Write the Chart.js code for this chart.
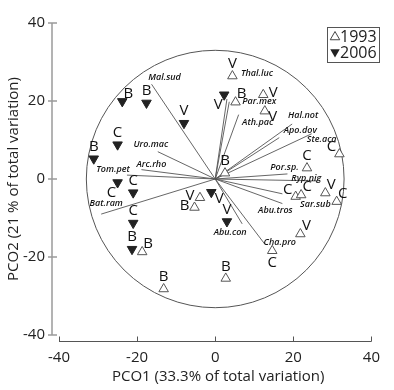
<!DOCTYPE html>
<html><head><meta charset="utf-8">
<script src="https://cdn.jsdelivr.net/npm/chart.js@4/dist/chart.umd.min.js"></script>
<style>html,body{margin:0;padding:0;background:#fff}#wrap{width:394px;height:390px}</style>
</head><body><div id="wrap"><canvas id="c" width="394" height="390"></canvas></div>
<script>
// ---- data ----
const legendLabels = ['1993', '2006'];
const x1993 = [4.4, 5.2, 12.3, 12.7, 2.5, 23.5, 31.8, 20.6, 22.0, 28.2, 31.1, 21.8, 14.6, 2.7, -13.2, -18.7, -3.9, -5.3];
const y1993 = [26.4, 19.7, 21.6, 17.4, 1.5, 2.8, 6.4, -4.5, -4.1, -3.6, -5.8, -14.1, -18.4, -25.5, -28.2, -18.7, -4.8, -7.3];
const grp1993 = ['V','B','V','V','B','C','C','C','C','V','C','V','C','B','B','B','V','B'];
const x2006 = [2.3, -23.8, -17.6, -8.0, -25.0, -31.1, -25.0, -21.0, -21.0, -21.3, -1.0, 3.0];
const y2006 = [21.6, 19.9, 19.5, 14.3, 8.8, 5.2, -0.9, -3.5, -11.3, -18.0, -3.4, -10.9];
const grp2006 = ['V','B','B','V','C','B','C','C','C','B','V','V'];
const species = ['Mal.sud','Thal.luc','Par.mex','Ath.pac','Hal.not','Apo.dov','Ste.aca','Uro.mac','Arc.rho','Tom.pet','Bat.ram','Por.sp.','Ryp.nig','Sar.sub','Abu.tros','Abu.con','Cha.pro'];
const spX = [-16.3, 3.0, 3.6, 6.0, 19.7, 16.4, 24.7, -14.7, -18.9, -22.6, -29.2, 18.5, 26.4, 17.2, 17.2, 6.9, 12.7];
const spY = [24.3, 20.5, 19.8, 16.5, 14.1, 10.6, 11.6, 7.0, 2.4, 1.0, -9.0, 1.3, -0.5, -3.8, -6.3, -11.5, -16.7];
const xTicks = [-40, -20, 0, 20, 40];
const yTicks = [-40, -20, 0, 20, 40];
const circleRadius = 33;
const xTitle = 'PCO1 (33.3% of total variation)';
const yTitle = 'PCO2 (21 % of total variation)';

// ---- layout (label placement only) ----
const place = {T:[0,-12], B:[0,12], L:[-10,-2], R:[10,-2], TL:[-8,-7], TR:[6,-8], BL:[-6,10], BR:[8,6]};
const pos1993 = ['T','TR','R','BR','T','T','TL','TL','TR','TR','TR','TR','B','T','T','TR','L','L'];
const pos2006 = ['BL','TR','T','T','T','T','BL','T','T','T','BR','T'];
const spLabelOffset = [[13,-7],[30,-26],[30,0],[19,8],[11,-9],[21,-7],[10,6],[-7,-7],[10,-5],[-14,-6],[5,-11],[-3,-6],[-12,-3],[33,11],[-7,7],[-12,9],[15,-2]];

const FONT = "'Open Sans', 'DejaVu Sans', sans-serif";

const decor = {
  id: 'decor',
  beforeDatasetsDraw(chart) {
    const {ctx, scales:{x, y}} = chart;
    const cx = x.getPixelForValue(0), cy = y.getPixelForValue(0);
    const rx = Math.abs(x.getPixelForValue(circleRadius) - cx);
    const ry = Math.abs(y.getPixelForValue(circleRadius) - cy);
    ctx.save();
    ctx.strokeStyle = '#555'; ctx.lineWidth = 1;
    ctx.beginPath(); ctx.ellipse(cx, cy, rx, ry, 0, 0, Math.PI*2); ctx.stroke();
    ctx.restore();
  },
  afterDraw(chart) {
    const {ctx, chartArea:a, scales:{x, y}} = chart;
    ctx.save();
    // y axis
    const ax = a.left - 7;
    ctx.strokeStyle = '#9a9a9a'; ctx.lineWidth = 1.5;
    ctx.beginPath(); ctx.moveTo(ax, y.getPixelForValue(40)); ctx.lineTo(ax, y.getPixelForValue(-40)); ctx.stroke();
    yTicks.forEach(v => { const p = y.getPixelForValue(v); ctx.beginPath(); ctx.moveTo(ax-4, p); ctx.lineTo(ax+5, p); ctx.stroke(); });
    // x axis
    const ay = a.bottom + 6.5;
    ctx.strokeStyle = '#555'; ctx.lineWidth = 1;
    ctx.beginPath(); ctx.moveTo(x.getPixelForValue(-40), ay); ctx.lineTo(x.getPixelForValue(40), ay); ctx.stroke();
    xTicks.forEach(v => { const p = Math.round(x.getPixelForValue(v))+0.5; ctx.beginPath(); ctx.moveTo(p, ay); ctx.lineTo(p, ay-5); ctx.stroke(); });
    // titles
    ctx.fillStyle = '#222'; ctx.font = '15px ' + FONT; ctx.textAlign = 'center'; ctx.textBaseline = 'middle';
    ctx.fillText(xTitle, (a.left + a.right)/2 + 3, 377);
    ctx.save(); ctx.translate(14, (a.top + a.bottom)/2); ctx.rotate(-Math.PI/2); ctx.fillText(yTitle, 0, 0); ctx.restore();
    // group letters
    ctx.font = '15px ' + FONT; ctx.fillStyle = '#111';
    const drawLetters = (xs, ys, gs, ps) => xs.forEach((xv, i) => {
      const o = place[ps[i]];
      ctx.fillText(gs[i], x.getPixelForValue(xv) + o[0], y.getPixelForValue(ys[i]) + o[1]);
    });
    drawLetters(x1993, y1993, grp1993, pos1993);
    drawLetters(x2006, y2006, grp2006, pos2006);
    // species labels
    ctx.font = 'italic 600 9px ' + FONT; ctx.fillStyle = '#111';
    species.forEach((s, i) => {
      const o = spLabelOffset[i];
      ctx.fillText(s, x.getPixelForValue(spX[i]) + o[0], y.getPixelForValue(spY[i]) + o[1]);
    });
    // legend
    const L = 327, T = 27, W = 52, H = 35;
    ctx.strokeStyle = '#555'; ctx.lineWidth = 1;
    ctx.strokeRect(L+0.5, T+0.5, W, H);
    const tri = (cxp, cyp, r, down, fill) => {
      const s = down ? -1 : 1;
      ctx.beginPath();
      ctx.moveTo(cxp, cyp - s*r);
      ctx.lineTo(cxp + r*0.866, cyp + s*r/2);
      ctx.lineTo(cxp - r*0.866, cyp + s*r/2);
      ctx.closePath();
      if (fill) { ctx.fillStyle = '#222'; ctx.fill(); }
      else { ctx.fillStyle = '#fff'; ctx.fill(); ctx.strokeStyle = '#444'; ctx.stroke(); }
    };
    tri(L+8, T+10, 5.5, false, false);
    tri(L+8, T+25, 5.5, true, true);
    ctx.fillStyle = '#222'; ctx.font = '16px ' + FONT; ctx.textAlign = 'left';
    ctx.fillText(legendLabels[0], L+13, T+10);
    ctx.fillText(legendLabels[1], L+13, T+26);
    ctx.restore();
  }
};

const vectorSets = species.map((s, i) => ({
  label: s, data: [{x:0, y:0}, {x:spX[i], y:spY[i]}], showLine: true,
  pointRadius: 0, borderColor: '#555', borderWidth: 0.9, fill: false
}));

new Chart(document.getElementById('c'), {
  type: 'scatter',
  data: { datasets: [
    { label: legendLabels[0], data: x1993.map((v, i) => ({x: v, y: y1993[i]})),
      pointStyle: 'triangle', pointRadius: 5.5, backgroundColor: '#fff', borderColor: '#555', borderWidth: 1 },
    { label: legendLabels[1], data: x2006.map((v, i) => ({x: v, y: y2006[i]})),
      pointStyle: 'triangle', pointRadius: 5.5, pointRotation: 180, rotation: 180, backgroundColor: '#222', borderColor: '#222', borderWidth: 1 },
    ...vectorSets
  ]},
  options: {
    responsive: false, animation: false, devicePixelRatio: 1,
    layout: { padding: { top: 15, right: 14, left: 0, bottom: 0 } },
    plugins: { legend: { display: false }, tooltip: { enabled: false } },
    scales: {
      x: { type: 'linear', min: -40, max: 40,
        afterBuildTicks: s => { s.ticks = xTicks.map(v => ({value: v})); },
        afterFit: s => { s.height = 55; },
        grid: { display: false, drawTicks: false }, border: { display: false },
        ticks: { padding: 14, color: '#222', font: { family: FONT, size: 15 }, maxRotation: 0 } },
      y: { type: 'linear', min: -40, max: 40,
        afterBuildTicks: s => { s.ticks = yTicks.map(v => ({value: v})); },
        afterFit: s => { s.width = 59; },
        grid: { display: false, drawTicks: false }, border: { display: false },
        ticks: { padding: 14, color: '#222', font: { family: FONT, size: 15 } } }
    }
  },
  plugins: [decor]
});
</script>
</body></html>
